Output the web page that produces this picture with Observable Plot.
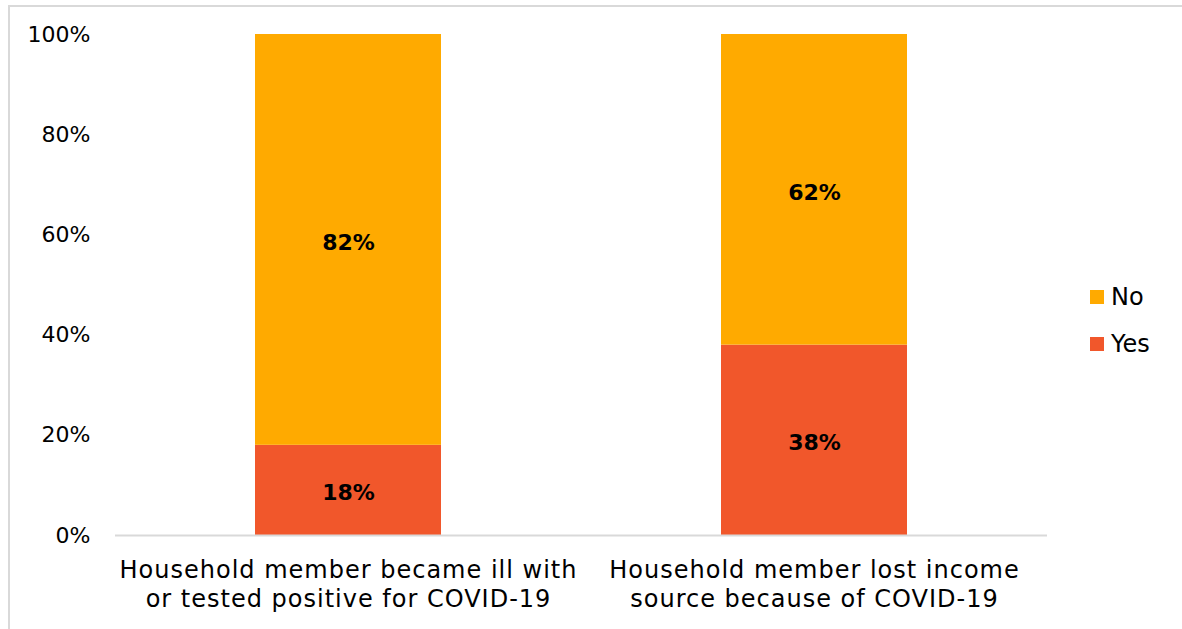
<!DOCTYPE html>
<html>
<head>
<meta charset="utf-8">
<script src="https://cdn.jsdelivr.net/npm/d3@7"></script>
<script src="https://cdn.jsdelivr.net/npm/@observablehq/plot@0.6"></script>
<style>
  html, body { margin: 0; padding: 0; background: #fff; }
  body { width: 1182px; height: 629px; position: relative; overflow: hidden; font-family: "DejaVu Sans", sans-serif; }
  #frame { position: absolute; left: 8px; top: 5px; width: 1180px; height: 700px; border: 2px solid #d9d9d9; box-sizing: border-box; pointer-events: none; }
  #chart { position: absolute; left: 0; top: 0; }
  #chart g[aria-label="x-axis tick label"] text { letter-spacing: 1px; }
  #legend { position: absolute; left: 1090px; top: 283px; font-size: 24px; color: #000; }
  .item { display: flex; align-items: center; height: 28px; margin-bottom: 19px; }
  .sw { width: 14px; height: 14px; margin-right: 7px; }
</style>
</head>
<body>
<div id="chart"></div>
<div id="frame"></div>
<div id="legend"></div>
<script>
const categories = [
  "Household member became ill with\nor tested positive for COVID-19",
  "Household member lost income\nsource because of COVID-19"
];
const responses = ["Yes", "No"];
const yesValues = [18, 38];
const noValues = [82, 62];
const colors = ["#F1572B", "#FFAA00"];
const yTicks = [0, 20, 40, 60, 80, 100];

const data = [];
categories.forEach((c, i) => {
  data.push({category: c, response: "Yes", value: yesValues[i]});
  data.push({category: c, response: "No", value: noValues[i]});
});

const plot = Plot.plot({
  width: 1182,
  height: 629,
  marginLeft: 115,
  marginRight: 135,
  marginTop: 34,
  marginBottom: 94,
  style: {fontFamily: "DejaVu Sans, sans-serif", fontSize: "22px", color: "#000", background: "transparent"},
  x: {domain: categories, paddingInner: 0.6, paddingOuter: 0.3, label: null},
  y: {domain: [0, 100], label: null},
  color: {domain: responses, range: colors},
  marks: [
    Plot.barY(data, {x: "category", y: "value", fill: "response"}),
    Plot.ruleY([0], {stroke: "#d9d9d9", strokeWidth: 2}),
    Plot.axisY({ticks: yTicks, tickSize: 0, tickPadding: 25, tickFormat: d => d + "%", fontSize: 22, label: null}),
    Plot.axisX({tickSize: 0, tickPadding: 23, fontSize: 24, lineHeight: 1.17, label: null}),
    Plot.text(data, Plot.stackY({x: "category", y: "value", z: "response", text: d => d.value + "%", fontSize: 22, fontWeight: "bold", fill: "#000", dy: 3}))
  ]
});
document.getElementById("chart").appendChild(plot);

const legend = document.getElementById("legend");
["No", "Yes"].forEach(r => {
  const item = document.createElement("div");
  item.className = "item";
  const sw = document.createElement("div");
  sw.className = "sw";
  sw.style.background = colors[responses.indexOf(r)];
  const t = document.createElement("span");
  t.textContent = r;
  item.appendChild(sw);
  item.appendChild(t);
  legend.appendChild(item);
});
</script>
</body>
</html>
